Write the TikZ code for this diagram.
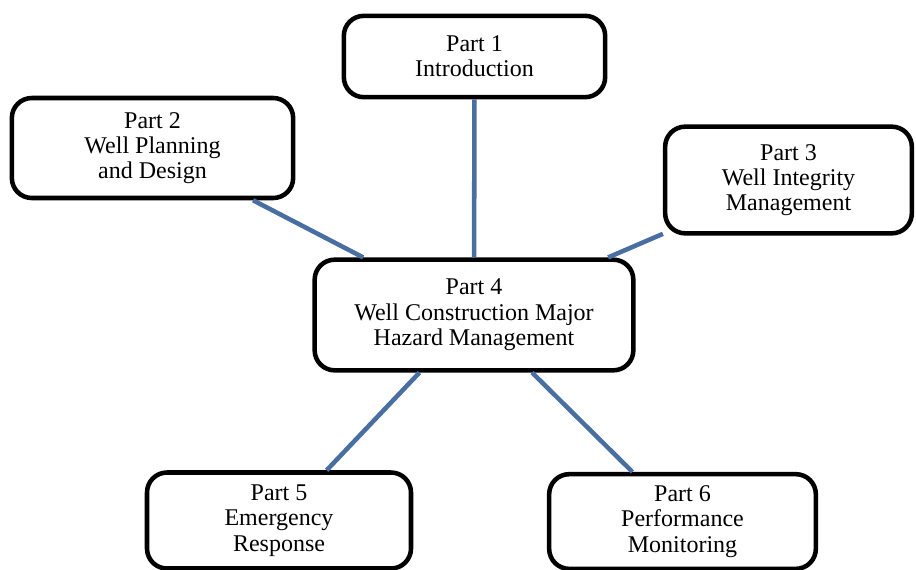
\documentclass[tikz,border=0pt]{standalone}
\usepackage{fontspec}
\setmainfont{Liberation Serif}
\usepackage{xcolor}
\definecolor{linkblue}{RGB}{72,110,162}
\usetikzlibrary{positioning}

\begin{document}
\begin{tikzpicture}[x=0.75pt, y=-0.75pt,
    partbox/.style={draw, line width=3.4pt, rounded corners=15pt, fill=white,
        align=center, inner sep=0pt, font=\fontsize{18}{19}\selectfont},
    link/.style={draw=linkblue, line width=3.4pt}]
    \useasboundingbox (0,0) rectangle (916,569);

    % Parts
    \node[partbox, minimum width=196pt, minimum height=61pt] (p1) at (474.5,56.5) {Part 1\\Introduction};
    \node[partbox, minimum width=211pt, minimum height=75pt] (p2) at (152.5,148) {Part 2\\Well Planning\\and Design};
    \node[partbox, minimum width=185pt, minimum height=80pt] (p3) at (788.5,180) {Part 3\\Well Integrity\\Management};
    \node[partbox, minimum width=239pt, minimum height=83pt] (p4) at (474,315) {Part 4\\Well Construction Major\\Hazard Management};
    \node[partbox, minimum width=198pt, minimum height=72pt] (p5) at (279,520.5) {Part 5\\Emergency\\Response};
    \node[partbox, minimum width=200pt, minimum height=71pt] (p6) at (682.5,521.5) {Part 6\\Performance\\Monitoring};

    % Links
    \draw[link] (p1) -- (p4);
    \draw[link] (p2) -- (p4);
    \draw[link] (p3) -- (p4);
    \draw[link] (p4) -- (p5);
    \draw[link] (p4) -- (p6);
\end{tikzpicture}
\end{document}
